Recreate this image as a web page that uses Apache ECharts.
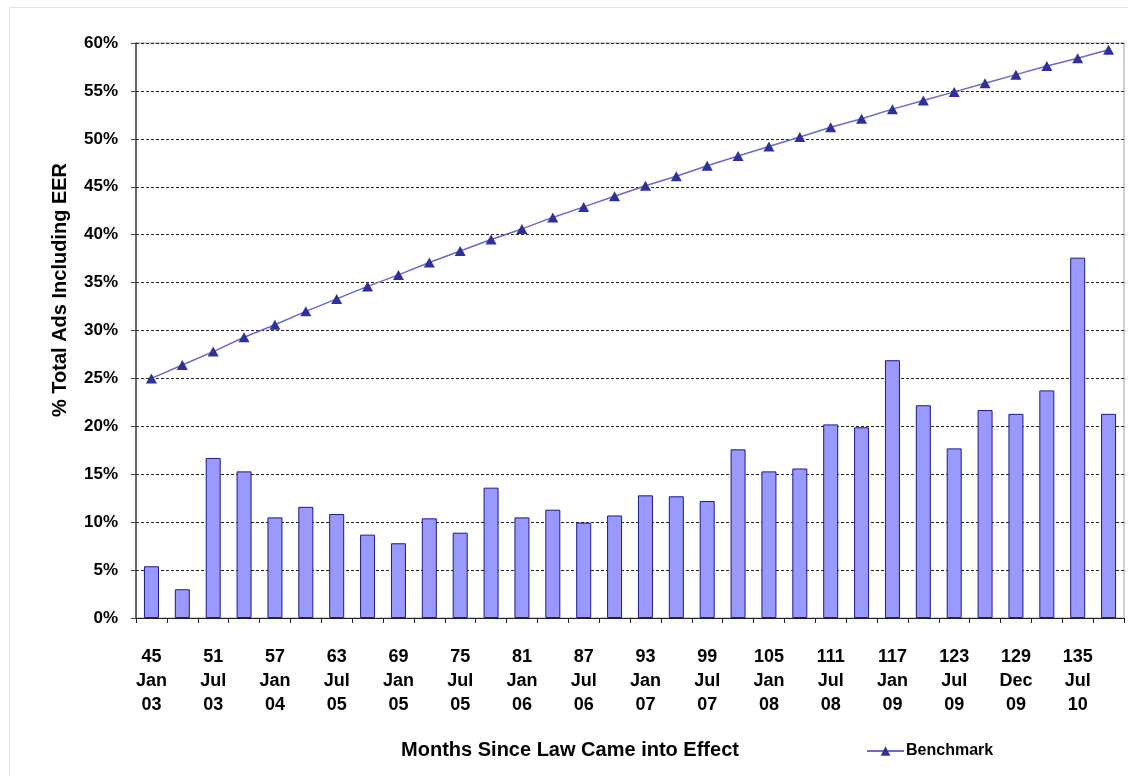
<!DOCTYPE html>
<html>
<head>
<meta charset="utf-8">
<title>EER ads vs benchmark</title>
<script src="https://cdn.jsdelivr.net/npm/echarts@6/dist/echarts.min.js"></script>
<style>
    html, body { margin: 0; padding: 0; background: #fff; }
    #chart { width: 1128px; height: 776px; }
</style>
</head>
<body>
<div id="chart"></div>
<script>
// months since the law came into effect (one per bar)
const monthsSince = [45, 48, 51, 54, 57, 60, 63, 66, 69, 72, 75, 78, 81, 84, 87, 90,
    93, 96, 99, 102, 105, 108, 111, 114, 117, 120, 123, 126, 129, 132, 135, 138];

// date text under every other bar
const tickDates = ['Jan\n03', 'Jul\n03', 'Jan\n04', 'Jul\n05', 'Jan\n05', 'Jul\n05', 'Jan\n06', 'Jul\n06',
    'Jan\n07', 'Jul\n07', 'Jan\n08', 'Jul\n08', 'Jan\n09', 'Jul\n09', 'Dec\n09', 'Jul\n10'];

// % of total ads including EER (bars)
const eerShare = [5.4, 3.0, 16.7, 15.3, 10.5, 11.6, 10.85, 8.7, 7.8, 10.4, 8.9, 13.6, 10.5, 11.3, 9.95, 10.7,
    12.8, 12.7, 12.2, 17.6, 15.3, 15.6, 20.2, 19.9, 26.9, 22.2, 17.7, 21.7, 21.3, 23.75, 37.6, 21.3];

// benchmark line
const benchmark = [25.0, 26.4, 27.8, 29.3, 30.6, 32.0, 33.3, 34.6, 35.8, 37.1, 38.3, 39.5, 40.6, 41.8, 42.9, 44.0,
    45.1, 46.1, 47.2, 48.2, 49.2, 50.2, 51.2, 52.1, 53.1, 54.0, 54.9, 55.8, 56.7, 57.6, 58.4, 59.3];

const FONT = '"Liberation Sans", Arial, sans-serif';

const chart = echarts.init(document.getElementById('chart'));

const option = {
    animation: false,
    backgroundColor: '#fff',
    grid: {
        left: 136,
        right: 4,
        top: 43,
        bottom: 158,
        show: true,
        borderColor: '#a0a0a0',
        borderWidth: 1
    },
    legend: {
        data: ['Benchmark'],
        left: 861,
        top: 738,
        itemWidth: 37,
        itemHeight: 12,
        itemGap: 2,
        textStyle: {
            fontFamily: FONT,
            fontSize: 16,
            fontWeight: 'bold',
            color: '#000',
            padding: [0, 0, 0, -3]
        }
    },
    xAxis: {
        type: 'category',
        data: monthsSince.map(String),
        boundaryGap: true,
        axisLine: { lineStyle: { color: '#222', width: 1 } },
        axisTick: { show: true, interval: 0, length: 5, lineStyle: { color: '#222' } },
        axisLabel: {
            interval: 0,
            margin: 27,
            fontFamily: FONT,
            fontSize: 18,
            fontWeight: 'bold',
            color: '#000',
            lineHeight: 24,
            formatter: function (value, index) {
                return index % 2 === 0 ? value + '\n' + tickDates[index / 2] : '';
            }
        },
        splitLine: { show: false }
    },
    yAxis: {
        type: 'value',
        min: 0,
        max: 60,
        interval: 5,
        axisLine: { show: true, lineStyle: { color: '#444', width: 1.5 } },
        axisTick: { show: true, inside: false, length: 5, lineStyle: { color: '#444' } },
        axisLabel: {
            margin: 18,
            fontFamily: FONT,
            fontSize: 17,
            fontWeight: 'bold',
            color: '#000',
            formatter: '{value}%'
        },
        splitLine: {
            show: true,
            lineStyle: { color: '#222', type: [3, 2], width: 1 }
        }
    },
    graphic: [
        {
            type: 'rect',
            left: 7,
            top: 5,
            shape: { width: 1130, height: 790 },
            style: { fill: 'none', stroke: '#e2e2e2', lineWidth: 1 },
            silent: true,
            z: -1
        },
        {
            type: 'text',
            x: 570,
            y: 750,
            style: {
                text: 'Months Since Law Came into Effect',
                fontFamily: FONT,
                fontSize: 20,
                fontWeight: 'bold',
                fill: '#000',
                align: 'center',
                verticalAlign: 'middle'
            }
        },
        {
            type: 'text',
            x: 60,
            y: 290,
            rotation: Math.PI / 2,
            style: {
                text: '% Total Ads Including EER',
                fontFamily: FONT,
                fontSize: 20,
                fontWeight: 'bold',
                fill: '#000',
                align: 'center',
                verticalAlign: 'middle'
            }
        }
    ],
    series: [
        {
            name: 'EER Ads',
            type: 'bar',
            data: eerShare,
            barWidth: 15,
            itemStyle: {
                color: '#9999ff',
                borderColor: '#1a1a8c',
                borderWidth: 1
            },
            z: 2
        },
        {
            name: 'Benchmark',
            type: 'line',
            data: benchmark,
            symbol: 'triangle',
            symbolSize: [11, 10],
            showAllSymbol: true,
            lineStyle: { color: '#6a6acd', width: 1.5 },
            itemStyle: { color: '#30309a' },
            z: 3
        }
    ]
};

chart.setOption(option);
</script>
</body>
</html>
